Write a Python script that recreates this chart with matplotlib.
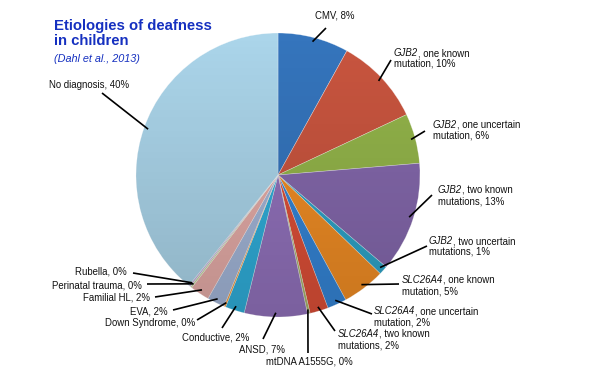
import numpy as np
import matplotlib.pyplot as plt
from matplotlib.patches import Circle

plt.rcParams['font.family'] = 'Liberation Sans'

# data, clockwise from 12 o'clock: (italic gene, rest of first line, second line)
labels = [
    ('', 'CMV, 8%', ''),
    ('GJB2', ', one known', 'mutation, 10%'),
    ('GJB2', ', one uncertain', 'mutation, 6%'),
    ('GJB2', ', two known', 'mutations, 13%'),
    ('GJB2', ', two uncertain', 'mutations, 1%'),
    ('SLC26A4', ', one known', 'mutation, 5%'),
    ('SLC26A4', ', one uncertain', 'mutation, 2%'),
    ('SLC26A4', ', two known', 'mutations, 2%'),
    ('', 'mtDNA A1555G, 0%', ''),
    ('', 'ANSD, 7%', ''),
    ('', 'Conductive, 2%', ''),
    ('', 'Down Syndrome, 0%', ''),
    ('', 'EVA, 2%', ''),
    ('', 'Familial HL, 2%', ''),
    ('', 'Perinatal trauma, 0%', ''),
    ('', 'Rubella, 0%', ''),
    ('', 'No diagnosis, 40%', ''),
]
# shares
values = [8.1, 10.0, 5.7, 12.6, 1.0, 4.9, 2.2, 2.1, 0.3, 7.2, 2.2, 0.2, 2.0, 2.2, 0.2, 0.2, 39.4]
colors = ['#3575BD', '#C9553F', '#93B44A', '#8468AC', '#2FA4C8', '#F08D25',
          '#3585D6', '#DD5038', '#A9B56A', '#9272BC', '#30AEDA', '#F59A3A',
          '#A3B6D8', '#E5ACA8', '#C5D49A', '#C2B0DC', '#ABD5EA']

# label placement in image pixels (left x, centre y of block) and leader line start
text_pos = [(315, 16), (394, 58.5), (433, 130), (438, 195.5), (429, 246.5),
            (402, 285.5), (374, 317), (338, 339.5), (266, 362), (239, 349),
            (182, 337), (105, 323), (130, 311), (83, 298), (52, 285),
            (75, 272), (49, 85)]
line_start = [(326, 28), (391, 60), (425, 131), (432, 195), (427, 246),
              (399, 284), (372, 314), (335, 331), (308, 353), (263, 339),
              (222, 328), (197, 320), (173, 310), (155, 297), (147, 284),
              (133, 273), (102, 93)]

W, H = 600, 371
fig = plt.figure(figsize=(6, 3.71), dpi=100)
ax = fig.add_axes([0, 0, 1, 1])
ax.set_xlim(0, W)
ax.set_ylim(0, H)

cx, cy, R = 278, H - 175, 142
wedges, _ = ax.pie(values, colors=colors, startangle=90, counterclock=False,
                   center=(cx, cy), radius=R,
                   wedgeprops=dict(linewidth=0.4, edgecolor=(1, 1, 1, 0.5)))

# soft vertical shading over the pie
t = np.linspace(0, 1, 256)
shade = np.zeros((256, 1, 4))
shade[:, 0, 3] = 0.16 * t
im = ax.imshow(shade, extent=[cx - R, cx + R, cy - R, cy + R], origin='upper',
               aspect='auto', zorder=3)
im.set_clip_path(Circle((cx, cy), R, transform=ax.transData))

fs = 6.9
tc = '#111111'
for w, (gene, rest, second), (tx, ty), (lx, ly) in zip(wedges, labels, text_pos, line_start):
    mid = np.deg2rad((w.theta1 + w.theta2) / 2)
    ex = cx + R * 0.97 * np.cos(mid)
    ey = cy + R * 0.97 * np.sin(mid)
    ax.plot([lx, ex], [H - ly, ey], color='black', lw=1.2, zorder=4,
            solid_capstyle='butt')
    y1 = ty - 5.5 if second else ty
    if gene:
        g = ax.text(tx, H - y1, gene, fontsize=fs, style='italic', ha='left',
                    va='center', color=tc)
        ax.annotate(rest, xy=(1, 0), xycoords=g, ha='left', va='bottom',
                    fontsize=fs, color=tc)
    else:
        ax.text(tx, H - y1, rest, fontsize=fs, ha='left', va='center', color=tc)
    if second:
        ax.text(tx, H - (ty + 5.5), second, fontsize=fs, ha='left',
                va='center', color=tc)

ax.text(54, H - 30, 'Etiologies of deafness', fontsize=10.7, fontweight='bold',
        color='#1530C0', va='baseline')
ax.text(54, H - 45, 'in children', fontsize=10.7, fontweight='bold',
        color='#1530C0', va='baseline')
ax.text(54, H - 59, '(Dahl et al., 2013)', fontsize=7.8, style='italic',
        color='#1530C0', va='center')

ax.set_xlim(0, W)
ax.set_ylim(0, H)
ax.set_aspect('auto')
ax.axis('off')

fig.savefig('out.png', dpi=100)
